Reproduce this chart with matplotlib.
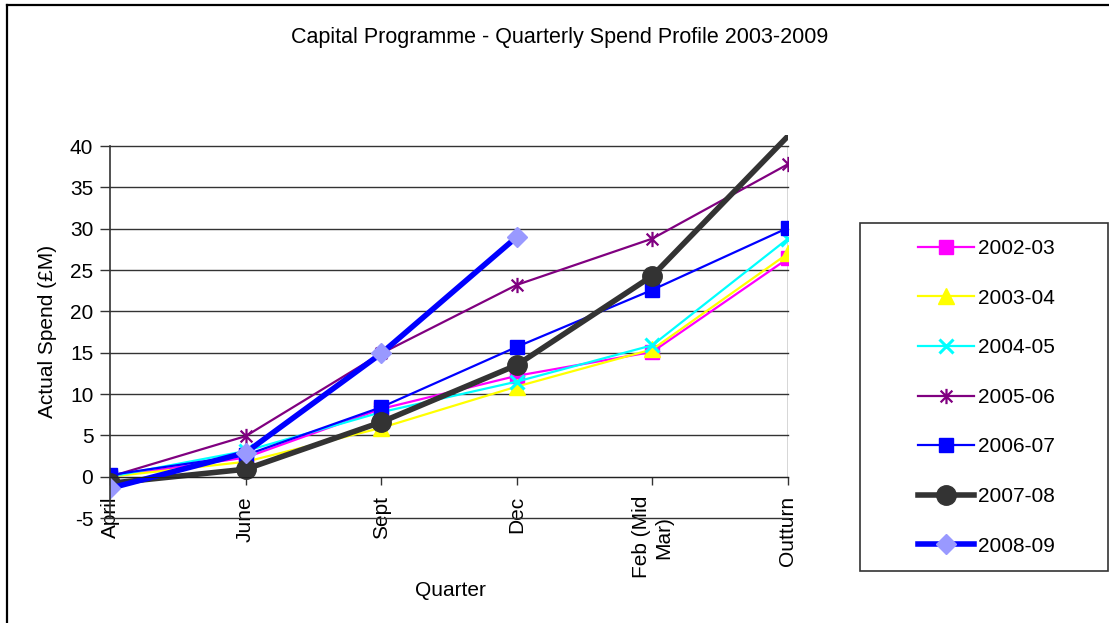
import matplotlib.pyplot as plt
from matplotlib.lines import Line2D
from matplotlib.patches import Rectangle
from matplotlib.path import Path

plt.rcParams['font.family'] = ['Liberation Sans', 'DejaVu Sans']
plt.rcParams['axes.unicode_minus'] = False

# quarterly spend, £M
quarters = ["April", "June", "Sept", "Dec", "Feb (Mid\nMar)", "Outturn"]
years = ["2002-03", "2003-04", "2004-05", "2005-06", "2006-07", "2007-08", "2008-09"]
spend_0203 = [0.0, 2.3, 8.2, 12.2, 15.1, 26.4]
spend_0304 = [0.0, 1.8, 5.9, 10.9, 15.4, 27.0]
spend_0405 = [0.0, 3.1, 7.8, 11.5, 15.9, 28.8]
spend_0506 = [0.0, 4.9, 14.9, 23.2, 28.8, 37.8]
spend_0607 = [0.2, 2.6, 8.4, 15.7, 22.6, 30.1]
spend_0708 = [-0.8, 0.9, 6.6, 13.5, 24.3, 41.2]
spend_0809 = [-1.4, 2.9, 14.9, 29.0]

series = [spend_0203, spend_0304, spend_0405, spend_0506,
          spend_0607, spend_0708, spend_0809]

# excel style asterisk: X with a vertical bar
asterisk = Path([(-1, -1), (1, 1), (-1, 1), (1, -1), (0, -1.3), (0, 1.3)],
                [Path.MOVETO, Path.LINETO, Path.MOVETO, Path.LINETO,
                 Path.MOVETO, Path.LINETO])

styles = [
    dict(color="#FF00FF", lw=1.6, marker="s", ms=9.5, mfc="#FF00FF", mec="#FF00FF"),
    dict(color="#FFFF00", lw=1.6, marker="^", ms=11, mfc="#FFFF00", mec="#FFFF00"),
    dict(color="#00FFFF", lw=1.6, marker="x", ms=10, mew=2.2, mec="#00FFFF"),
    dict(color="#800080", lw=1.6, marker=asterisk, ms=11, mew=1.6, mec="#800080"),
    dict(color="#0000FF", lw=1.6, marker="s", ms=10.5, mfc="#0000FF", mec="#0000FF"),
    dict(color="#333333", lw=4, marker="o", ms=14, mfc="#333333", mec="#333333"),
    dict(color="#0000FF", lw=4, marker="D", ms=10, mfc="#9999FF", mec="#9999FF"),
]

W, H = 1109, 623
fig = plt.figure(figsize=(W / 100, H / 100), dpi=100)
ax = fig.add_axes([110 / W, 1 - 518 / H, (788 - 110) / W, (518 - 146) / H])

# category axis crosses at zero (done first, moving the spine rebuilds the ticks)
ax.spines["bottom"].set_position(("data", 0))

x = list(range(len(quarters)))
for vals, name, st in zip(series, years, styles):
    n = len(vals)
    line, = ax.plot(x[:n], vals, label=name, solid_joinstyle="round",
                    markevery=[i for i in range(n) if vals[i] <= 40], **st)
    # let the line run a little past the top of the plot area
    line.set_clip_path(Rectangle((0, -0.01), 1.0, 1.04, transform=ax.transAxes))

ax.set_xlim(0, len(quarters) - 1)
ax.set_ylim(-5, 40)
ax.set_yticks(range(-5, 41, 5))
ax.set_xticks(x)
ax.set_xticklabels(quarters, rotation=90, va="top", ha="center",
                   multialignment="center")

ax.grid(axis="y", color="#333333", lw=1)
for g in ax.get_ygridlines():
    g.set_clip_on(False)
ax.set_axisbelow(True)
for s in ["top", "right"]:
    ax.spines[s].set_visible(False)
ax.spines["bottom"].set_color("#222222")
ax.spines["left"].set_color("#333333")
ax.spines["left"].set_linewidth(1.2)
ax.plot([x[-1], x[-1]], [0, 40], color="#333333", lw=1, zorder=1)

ax.tick_params(axis="y", direction="out", length=7, width=1, pad=5,
               labelsize=15, color="#333333")
ax.tick_params(axis="x", direction="out", length=6, width=1, pad=8,
               labelsize=15, color="#333333")

fig.text(48 / W, 1 - 331 / H, "Actual Spend (£M)", rotation=90,
         ha="center", va="center", fontsize=15)
fig.text(450 / W, 1 - 590 / H, "Quarter", ha="center", va="center", fontsize=15)
fig.text(560 / W, 1 - 38 / H, "Capital Programme - Quarterly Spend Profile 2003-2009",
         ha="center", va="center", fontsize=15.5)

# legend box
fig.patches.append(Rectangle((860 / W, 1 - 571 / H), (1108 - 860) / W, (571 - 223) / H,
                             transform=fig.transFigure, fill=False,
                             edgecolor="#333333", lw=1.2))
fig.legend(loc="upper left", bbox_to_anchor=(918 / W, 1 - 239 / H),
           frameon=False, fontsize=15, handlelength=2.7, handletextpad=0.2,
           labelspacing=1.47, borderpad=0, borderaxespad=0)

# chart area border (top and left edges)
fig.add_artist(Line2D([7 / W, 1108 / W], [1 - 5 / H, 1 - 5 / H],
                      transform=fig.transFigure, color="black", lw=1.6))
fig.add_artist(Line2D([7 / W, 7 / W], [1 - 5 / H, 0],
                      transform=fig.transFigure, color="black", lw=1.6))

fig.savefig("out.png", dpi=100)
